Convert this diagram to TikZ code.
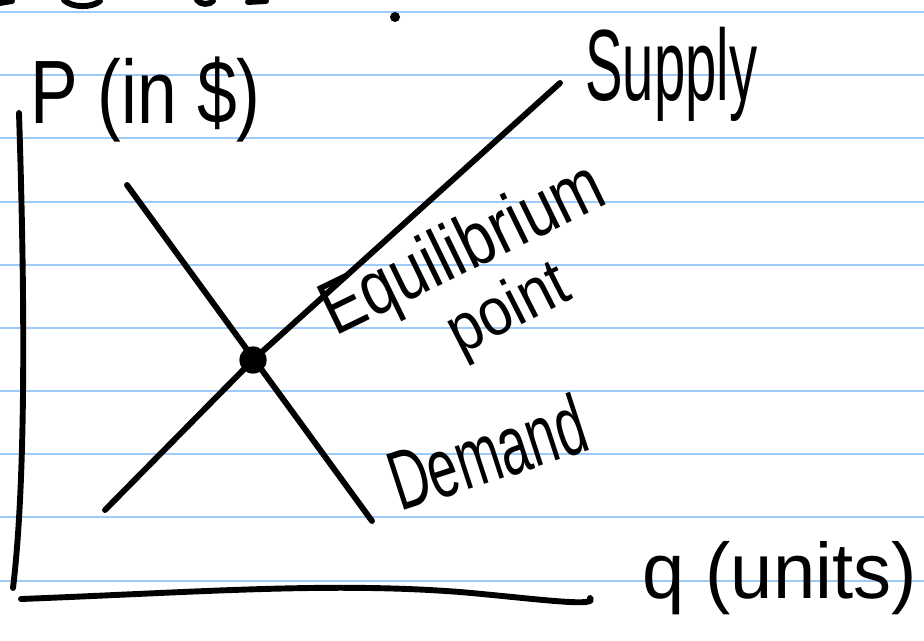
\documentclass[tikz,border=0pt]{standalone}
\usepackage{fontspec}
\setmainfont{Liberation Sans}
\definecolor{ruleblue}{RGB}{158,202,250}
\tikzset{
  pen/.style={line width=4.2pt,line cap=round,line join=round},
  hand/.style={font=\fontsize{40}{44}\selectfont,inner sep=0pt,anchor=base west},
}
\begin{document}
\begin{tikzpicture}[x=0.025cm,y=-0.025cm]
   \path[use as bounding box] (0,0) rectangle (924,640);
   \foreach \y in {12,75,138,202,265,328,391,454,517,581}
     \draw[ruleblue,line width=1.3pt] (0,\y) -- (924,\y);
   % bits of the line above
   \draw[pen] (0,3) -- (12,1);
   \draw[pen] (64,0) .. controls (72,8) and (92,8) .. (100,1);
   \draw[pen] (197,0) .. controls (200,5) and (210,5) .. (213,1);
   \draw[pen] (248,2) -- (266,1);
   \fill (395,17) circle (5);
   % axes
   \coordinate (ptop) at (19,113);
   \coordinate (pbot) at (13,588);
   \coordinate (qleft) at (21,599);
   \coordinate (qright) at (590,598);
   \draw[pen] (ptop) .. controls (25,300) and (26,480) .. (pbot);
   \draw[pen] (qleft) .. controls (200,592) and (330,582) .. (460,592)
     .. controls (530,598) and (600,608) .. (qright);
   % supply and demand
   \coordinate (s1) at (105,510);
   \coordinate (s2) at (560,83);
   \coordinate (d1) at (127,185);
   \coordinate (d2) at (372,521);
   \node[circle,fill,inner sep=0pt,minimum size=0.68cm] (eq) at (253,360) {};
   \draw[pen] (d1) -- (d2);
   \draw[pen] (s1) -- (eq.center) -- (s2);
   % labels
   \node[hand,xscale=1.27,yscale=1.6] (plabel) at (30,123) {P (in \$)};
   \node[hand,xscale=1,yscale=1.8] (slabel) at (585,100) {Supply};
   \node[hand,rotate=26,xscale=1.1,yscale=1.35] (eqlabel) at (335,337) {Equilibrium};
   \node[hand,rotate=27,xscale=1.05,yscale=1.2] (ptlabel) at (460,356) {point};
   \node[hand,rotate=18,xscale=0.95,yscale=1.5] (dlabel) at (400,512) {Demand};
   \node[hand,xscale=1.35,yscale=1.4] (qlabel) at (642,598) {q (units)};
\end{tikzpicture}
\end{document}
